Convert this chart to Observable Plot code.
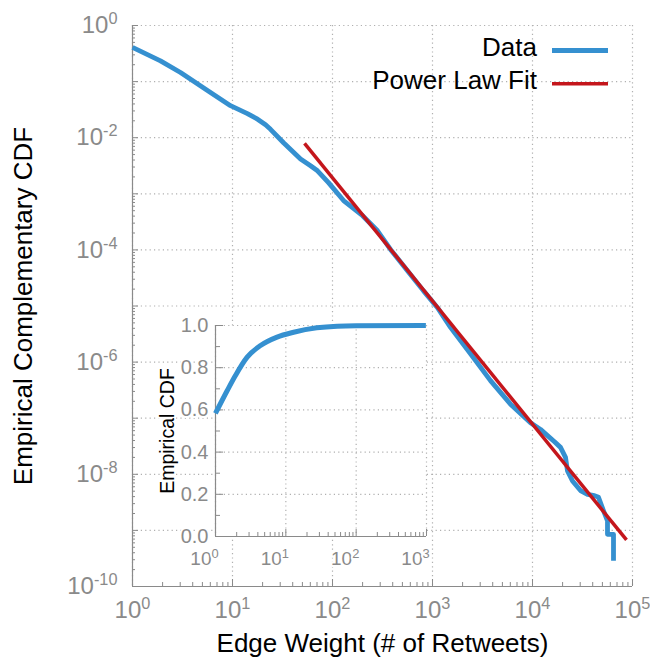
<!DOCTYPE html>
<html><head><meta charset="utf-8">
<script src="https://cdn.jsdelivr.net/npm/d3@7"></script>
<script src="https://cdn.jsdelivr.net/npm/@observablehq/plot@0.6"></script>
<style>
html,body{margin:0;padding:0;background:#fff;}
#chart{position:relative;width:650px;height:661px;font-family:"Liberation Sans",Arial,Helvetica,sans-serif;}
#chart svg{position:absolute;left:0;top:0;}
</style></head><body><div id="chart"></div>
<script>
// ---- Main chart: empirical complementary CDF (log-log) ----
const ccdfWeight = [1, 1.905, 3.02, 5.62, 9.55, 14.1, 17.8, 21.4, 24.0, 32.4, 47.9, 60.3, 70.8, 91.2, 129, 200, 282, 380, 562, 813, 1122, 1514, 2399, 3802, 6026, 9550, 12023, 14125, 16596, 19055, 21380, 22387, 25119, 30200, 35481, 41687, 45709, 51286, 56234, 56234, 64565, 64565];
const ccdfValue  = [0.407, 0.234, 0.145, 0.0692, 0.0372, 0.0269, 0.0214, 0.0170, 0.0141, 0.00813, 0.00417, 0.00316, 0.00257, 0.00158, 7.59e-4, 4.07e-4, 2.19e-4, 1.02e-4, 4.27e-5, 1.86e-5, 9.33e-6, 4.17e-6, 1.41e-6, 4.68e-7, 1.78e-7, 8.32e-8, 6.31e-8, 4.90e-8, 3.80e-8, 3.02e-8, 2.00e-8, 1.15e-8, 7.59e-9, 5.13e-9, 4.37e-9, 4.17e-9, 3.89e-9, 2.24e-9, 1.48e-9, 8.51e-10, 8.51e-10, 2.88e-10];
// Power law fit (two endpoints of the straight line on log-log axes)
const fitWeight = [52.5, 87096];
const fitValue  = [0.00794, 6.76e-10];

// ---- Inset: empirical CDF ----
const cdfWeight = [1, 1.47, 1.92, 2.82, 4.37, 7.5, 12.9, 27.5, 53.7, 100, 980];
const cdfValue  = [0.584, 0.692, 0.763, 0.85, 0.905, 0.945, 0.968, 0.989, 0.997, 0.999, 1.0];

// ---- Ticks and labels ----
const xDecades = [1, 10, 100, 1e3, 1e4, 1e5];
const yDecades = [1e-10, 1e-9, 1e-8, 1e-7, 1e-6, 1e-5, 1e-4, 1e-3, 1e-2, 1e-1, 1];
const yLabelTicks = [1e-10, 1e-8, 1e-6, 1e-4, 1e-2, 1];
const insetXDecades = [1, 10, 100, 1000];
const insetYMajor = [0, 0.2, 0.4, 0.6, 0.8, 1.0];
const insetYMinor = [0.1, 0.3, 0.5, 0.7, 0.9];
const xTitle = "Edge Weight (# of Retweets)";
const yTitle = "Empirical Complementary CDF";
const insetTitle = "Empirical CDF";
const legendLabels = ["Data", "Power Law Fit"];

const W = 650, H = 661;
const FONT = '"Liberation Sans", Arial, Helvetica, sans-serif';
const BLUE = "#3590d0", RED = "#c4161c", GRAY = "#8a8a8a", GRID = "#b0b0b0";
const legendColors = [BLUE, RED];
const legendWidths = [5, 3.5];

function minorOf(decades) {
  const out = [];
  for (let i = 0; i < decades.length - 1; i++) for (let k = 2; k <= 9; k++) out.push(decades[i] * k);
  return out;
}
const supFmt = d => "10^" + Math.round(Math.log10(d));
const ccdf = ccdfWeight.map((w, i) => ({w, v: ccdfValue[i]}));
const fit = fitWeight.map((w, i) => ({w, v: fitValue[i]}));
const cdf = cdfWeight.map((w, i) => ({w, v: cdfValue[i]}));

const mL = 132, mR = 18, mT = 25, mB = 75;
const pw = W - mL - mR, ph = H - mT - mB;
const dotted = {stroke: GRID, strokeOpacity: 1, strokeDasharray: "1.2,3.2", strokeWidth: 1.2};

const main = Plot.plot({
  width: W, height: H,
  marginLeft: mL, marginRight: mR, marginTop: mT, marginBottom: mB,
  style: {fontFamily: FONT, background: "transparent", overflow: "visible"},
  x: {type: "log", domain: [1, 1e5]},
  y: {type: "log", domain: [1e-10, 1]},
  marks: [
    Plot.gridX(xDecades, dotted),
    Plot.gridY(yDecades, dotted),
    Plot.ruleX([1], {stroke: GRAY, strokeWidth: 1.2}),
    Plot.ruleY([1e-10], {stroke: GRAY, strokeWidth: 1.2}),
    Plot.tickY(yDecades, {y: d => d, stroke: GRAY, insetRight: pw - 6}),
    Plot.tickY(minorOf(yDecades), {y: d => d, stroke: GRAY, insetRight: pw - 3}),
    Plot.tickX(xDecades, {x: d => d, stroke: GRAY, insetTop: ph - 7}),
    Plot.tickX(minorOf(xDecades), {x: d => d, stroke: GRAY, insetTop: ph - 4}),
    Plot.axisX(xDecades, {tickSize: 0, tickPadding: 14, tickFormat: supFmt, fontSize: 24, color: GRAY, label: null}),
    Plot.axisY(yLabelTicks, {tickSize: 0, tickPadding: 15, tickFormat: supFmt, fontSize: 24, color: GRAY, label: null}),
    Plot.line(ccdf, {x: "w", y: "v", stroke: BLUE, strokeWidth: 4.8, strokeLinecap: "butt", strokeLinejoin: "round"}),
    Plot.line(fit, {x: "w", y: "v", stroke: RED, strokeWidth: 3.5, strokeLinecap: "butt"}),
    Plot.text([xTitle], {text: d => d, frameAnchor: "bottom", dy: 65, lineAnchor: "bottom", textAnchor: "middle", fontSize: 26, fill: "black"}),
    Plot.text([yTitle], {text: d => d, frameAnchor: "left", rotate: -90, dx: -101, lineAnchor: "bottom", textAnchor: "middle", fontSize: 26, fill: "black"})
  ]
});

const iL = 215, iR = 224, iT = 325, iB = 125;
const iw = W - iL - iR, ih = H - iT - iB;
const halo = {stroke: "white", strokeWidth: 4, paintOrder: "stroke"};
const inset = Plot.plot({
  width: W, height: H,
  marginLeft: iL, marginRight: iR, marginTop: iT, marginBottom: iB,
  style: {fontFamily: FONT, background: "transparent", overflow: "visible"},
  x: {type: "log", domain: [1, 1000], axis: null},
  y: {domain: [0, 1], axis: null},
  marks: [
    Plot.frame({fill: "white", stroke: "none"}),
    Plot.gridX(insetXDecades, dotted),
    Plot.gridY(insetYMajor, dotted),
    Plot.ruleX([1], {stroke: GRAY, strokeWidth: 1.2}),
    Plot.ruleY([0], {stroke: GRAY, strokeWidth: 1.2}),
    Plot.tickY(insetYMajor, {y: d => d, stroke: GRAY, insetRight: iw - 8}),
    Plot.tickY(insetYMinor, {y: d => d, stroke: GRAY, insetRight: iw - 5}),
    Plot.tickX(insetXDecades, {x: d => d, stroke: GRAY, insetTop: ih - 7}),
    Plot.tickX(minorOf(insetXDecades), {x: d => d, stroke: GRAY, insetTop: ih - 4}),
    Plot.text(insetYMajor, {y: d => d, text: d => d.toFixed(1), frameAnchor: "left", dx: -7, textAnchor: "end", lineAnchor: "middle", fontSize: 20, fill: GRAY, ...halo}),
    Plot.text(insetXDecades, {x: d => d, text: supFmt, frameAnchor: "bottom", dy: 15, dx: -11, lineAnchor: "top", textAnchor: "middle", fontSize: 19, fill: GRAY, ...halo}),
    Plot.line(cdf, {x: "w", y: "v", stroke: BLUE, strokeWidth: 5, curve: "monotone-x", strokeLinecap: "butt"}),
    Plot.text([insetTitle], {text: d => d, frameAnchor: "left", rotate: -90, dx: -41.5, lineAnchor: "bottom", textAnchor: "middle", fontSize: 19.5, fill: "black", ...halo})
  ]
});

function applySup(svg) {
  d3.select(svg).selectAll("text").each(function () {
    const m = /^10\^(-?\d+)$/.exec(this.textContent);
    if (m) {
      this.textContent = "";
      const t = d3.select(this);
      t.append("tspan").text("10");
      t.append("tspan").attr("font-size", "0.68em").attr("dy", "-0.55em").text(m[1]);
    }
  });
}
applySup(main);
applySup(inset);

const chart = document.getElementById("chart");
chart.appendChild(main);
chart.appendChild(inset);

// Legend
const leg = d3.create("svg").attr("width", W).attr("height", H)
  .style("font-family", FONT).style("pointer-events", "none");
legendLabels.forEach((lab, i) => {
  const y = 56 + i * 33.3;
  leg.append("text").attr("x", 537).attr("y", y).attr("text-anchor", "end")
    .attr("font-size", 26).attr("fill", "black").text(lab);
  leg.append("line").attr("x1", 552).attr("x2", 608).attr("y1", y - 5.5).attr("y2", y - 5.5)
    .attr("stroke", legendColors[i]).attr("stroke-width", legendWidths[i]);
});
chart.appendChild(leg.node());
</script>
</body></html>
